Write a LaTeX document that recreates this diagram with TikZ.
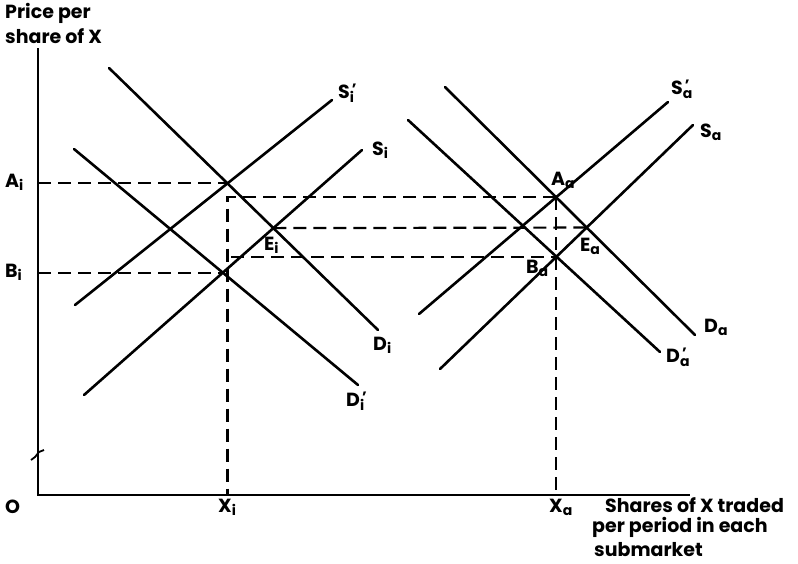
\documentclass[tikz,border=0pt]{standalone}
\usepackage{fontspec}
\setmainfont{Poppins}
\newcommand\mysub[1]{\raisebox{-0.3ex}{\fontsize{14}{14}\selectfont #1}}
\newcommand\mysubp[1]{\raisebox{-0.3ex}{\fontsize{14}{14}\selectfont\rlap{\kern2pt\raisebox{1.0ex}{\fontsize{15}{15}\selectfont '}}#1}}
\begin{document}
\begin{tikzpicture}[x=1pt,y=-1pt,
  solidln/.style={line width=2.6pt, line cap=round},
  axisln/.style={line width=2.4pt},
  dsh/.style={line width=2.2pt, dash pattern=on 13pt off 7pt},
  lab/.style={font=\fontsize{19}{22}\selectfont\bfseries, inner sep=0pt, anchor=west},
  txt/.style={font=\fontsize{19}{22}\selectfont\bfseries, inner sep=0pt, align=left, anchor=west}]
\useasboundingbox (0,0) rectangle (798,563);
% axes
\coordinate (O) at (38,495);
\coordinate (ytop) at (38,48);
\coordinate (xend) at (690,495);
\draw[axisln] (ytop) -- (O) -- (xend);
\draw[line width=1.8pt] (31,460) -- (35,457) -- (39,452) -- (44,450);
% line end points
\coordinate (Di1) at (109,68);   \coordinate (Di2) at (378,330);
\coordinate (Dpi1) at (74,149);  \coordinate (Dpi2) at (358,385);
\coordinate (Spi1) at (75,305);  \coordinate (Spi2) at (332,100);
\coordinate (Si1) at (84,395);   \coordinate (Si2) at (362,150);
\coordinate (Da1) at (445,87);   \coordinate (Da2) at (695,335);
\coordinate (Dpa1) at (408,120); \coordinate (Dpa2) at (660,352);
\coordinate (Spa1) at (419,314); \coordinate (Spa2) at (668,102);
\coordinate (Sa1) at (440,369);  \coordinate (Sa2) at (693,125);
% intersections
\coordinate (Ai) at (intersection of Di1--Di2 and Spi1--Spi2);
\coordinate (Bi) at (intersection of Dpi1--Dpi2 and Si1--Si2);
\coordinate (Ei) at (intersection of Di1--Di2 and Si1--Si2);
\coordinate (Aa) at (intersection of Da1--Da2 and Spa1--Spa2);
\coordinate (Ba) at (intersection of Dpa1--Dpa2 and Sa1--Sa2);
\coordinate (Ea) at (intersection of Da1--Da2 and Sa1--Sa2);
\coordinate (Xi) at (Ai |- O);
\coordinate (Xa) at (Aa |- O);
\coordinate (cornA) at (Ai |- Aa);
\coordinate (cornB) at ([xshift=4pt]Ai |- Ba);
% dashed guides
\draw[dsh] (Ai -| O) -- (Ai);
\draw[dsh] (Bi -| O) -- (Bi);
\draw[dsh] (Aa) -- (cornA) -- (Xi);
\draw[dsh] (cornB) -- (Ba);
\draw[dsh] (Ei) -- (Ea);
\draw[dsh] (Aa) -- (Xa);
% curves
\draw[solidln] (Di1) -- (Di2);
\draw[solidln] (Dpi1) -- (Dpi2);
\draw[solidln] (Spi1) -- (Spi2);
\draw[solidln] (Si1) -- (Si2);
\draw[solidln] (Da1) -- (Da2);
\draw[solidln] (Dpa1) -- (Dpa2);
\draw[solidln] (Spa1) -- (Spa2);
\draw[solidln] (Sa1) -- (Sa2);
% labels
\node[txt] (ylab1) at (5,13) {Price per};
\node[txt] (ylab2) at (5,36) {share of X};
\node[lab] (lAi) at (5,182) {A\mysub{i}};
\node[lab] (lBi) at (5,272) {B\mysub{i}};
\node[lab] (lO) at (5,507) {O};
\node[lab] (lXi) at (218,507) {X\mysub{i}};
\node[lab] (lXa) at (549,507) {X\mysub{a}};
\node[lab] (lSpi) at (338,93) {S\mysubp{i}};
\node[lab] (lSi) at (372,150) {S\mysub{i}};
\node[lab] (lDi) at (373,345) {D\mysub{i}};
\node[lab] (lDpi) at (346,401) {D\mysubp{i}};
\node[lab] (lEi) at (264,245) {E\mysub{i}};
\node[lab] (lAa) at (551,180) {A\mysub{a}};
\node[lab] (lBa) at (526,268) {B\mysub{a}};
\node[lab] (lEa) at (580,246) {E\mysub{a}};
\node[lab] (lSpa) at (671,89) {S\mysubp{a}};
\node[lab] (lSa) at (700,132) {S\mysub{a}};
\node[lab] (lDa) at (704,327) {D\mysub{a}};
\node[lab] (lDpa) at (666,357) {D\mysubp{a}};
\node[txt] (xlab1) at (605,505) {Shares of X traded};
\node[txt] (xlab2) at (592,527) {per period in each};
\node[txt] (xlab3) at (594,550) {submarket};
\end{tikzpicture}
\end{document}
